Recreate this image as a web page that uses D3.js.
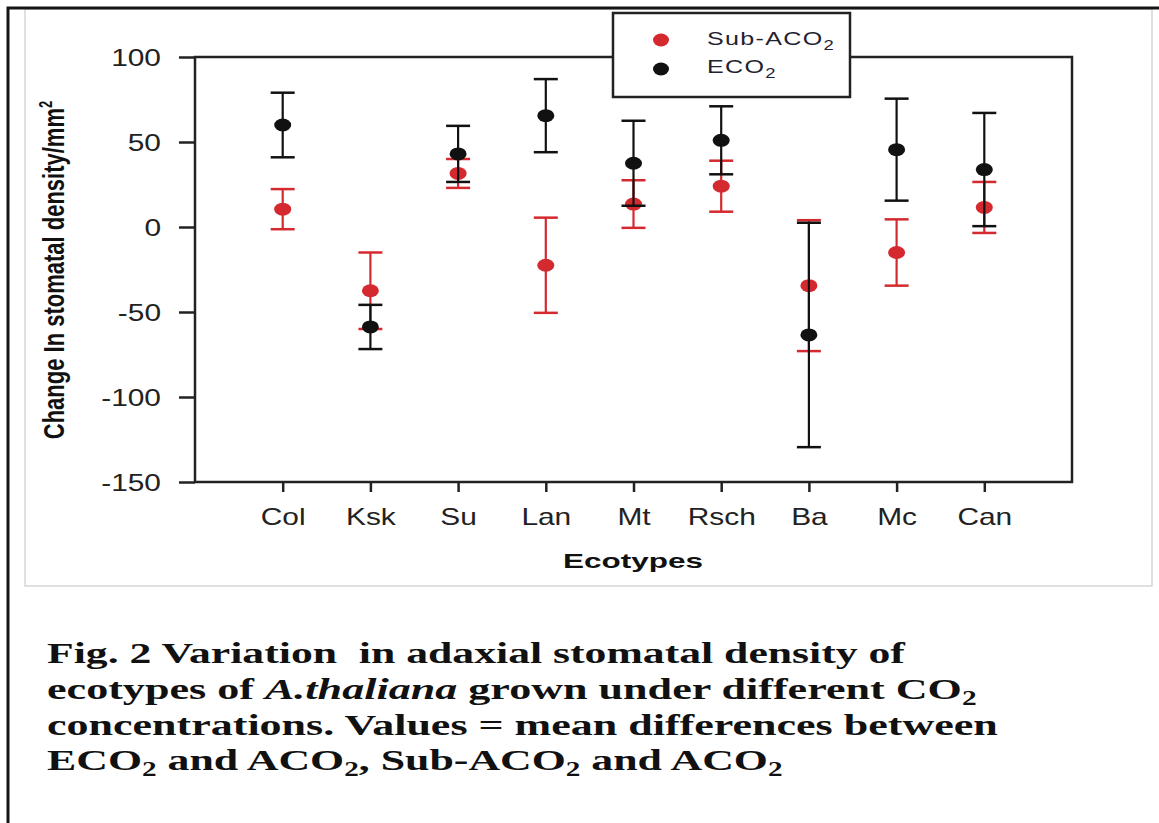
<!DOCTYPE html>
<html>
<head>
<meta charset="utf-8">
<script src="https://cdn.jsdelivr.net/npm/d3@7"></script>
<style>
  html, body { margin: 0; padding: 0; background: #fff; }
  svg { display: block; }
</style>
</head>
<body>
<svg id="chart" width="1159" height="823"></svg>
<script>
// ---- data ----
const categories = ["Col", "Ksk", "Su", "Lan", "Mt", "Rsch", "Ba", "Mc", "Can"];
const ecoMean = [60, -58.8, 43, 65.5, 37.5, 51, -63.5, 45.5, 33.8];
const ecoErr  = [19, 13, 16.5, 21.5, 25, 20, 66, 30, 33.3];
const subMean = [10.5, -37.5, 31.5, -22.5, 13.5, 24, -34.5, -15, 11.5];
const subErr  = [11.8, 22.5, 8.5, 28, 14, 15, 38.5, 19.5, 15];
const yTicks  = [100, 50, 0, -50, -100, -150];
const seriesNames = ["Sub-ACO", "ECO"];
const captionLines = [
  [{t: "Fig. 2 Variation\u00a0 in adaxial stomatal density of"}],
  [{t: "ecotypes of "}, {t: "A.thaliana", i: true}, {t: " grown under different CO"}, {t: "2", sub: true}],
  [{t: "concentrations. Values = mean differences between"}],
  [{t: "ECO"}, {t: "2", sub: true}, {t: " and ACO"}, {t: "2", sub: true}, {t: ", Sub-ACO"}, {t: "2", sub: true}, {t: " and ACO"}, {t: "2", sub: true}]
];

(function () {
const RED = "#d42a2f", BLACK = "#111111", AX = "#222222";
const svg = d3.select("#chart");
const pL = 195, pR = 1072, pT = 57, pB = 482;
const SX = 1.3;

// frames
svg.append("rect").attr("x", 25).attr("y", 9).attr("width", 1127).attr("height", 577)
  .attr("fill", "none").attr("stroke", "#d6d6d6").attr("stroke-width", 1.5);
svg.append("path").attr("d", "M8,823V8H1159").attr("fill", "none")
  .attr("stroke", "#161616").attr("stroke-width", 3);

const x = d3.scalePoint().domain(categories).range([pL, pR]).padding(1);
const y = d3.scaleLinear().domain([-150, 100]).range([pB, pT]);

// plot box
svg.append("rect").attr("x", pL).attr("y", pT).attr("width", pR - pL).attr("height", pB - pT)
  .attr("fill", "none").attr("stroke", AX).attr("stroke-width", 2.5);

// y axis
const ya = svg.append("g").attr("transform", `translate(${pL},0)`)
  .call(d3.axisLeft(y).tickValues(yTicks).tickSize(16).tickFormat(d => String(d)));
ya.select(".domain").remove();
ya.selectAll(".tick line").attr("stroke", AX).attr("stroke-width", 2.5);
ya.selectAll(".tick text").attr("x", 0).attr("dy", "0.36em")
  .attr("transform", `translate(-34,0) scale(${SX},1)`)
  .style("font-family", "'Liberation Sans', Arial, sans-serif").style("font-size", "23px").attr("fill", "#222");

// x axis
const xa = svg.append("g").attr("transform", `translate(0,${pB})`)
  .call(d3.axisBottom(x).tickSize(10));
xa.select(".domain").remove();
xa.selectAll(".tick line").attr("stroke", AX).attr("stroke-width", 2.5);
xa.selectAll(".tick text").attr("y", 43).attr("dy", 0)
  .attr("transform", `scale(${SX},1)`).attr("x", 0)
  .style("font-family", "'Liberation Sans', Arial, sans-serif").style("font-size", "23px").attr("fill", "#222");

// axis titles
svg.append("text").attr("x", 633).attr("y", 568).attr("text-anchor", "middle")
  .attr("textLength", 140).attr("lengthAdjust", "spacingAndGlyphs")
  .style("font-family", "'Liberation Sans', Arial, sans-serif").style("font-weight", "bold").style("font-size", "21px")
  .attr("fill", "#111").text("Ecotypes");

const yt = svg.append("text").attr("transform", "translate(64,270) rotate(-90) scale(1,1.35)")
  .attr("text-anchor", "middle")
  .style("font-family", "'Liberation Sans', Arial, sans-serif").style("font-weight", "bold").style("font-size", "22px")
  .attr("fill", "#111");
yt.append("tspan").text("Change In stomatal density/mm");
yt.append("tspan").attr("dy", -9).style("font-size", "13px").text("2");

// data series
function drawSeries(mean, err, color) {
  const g = svg.append("g");
  categories.forEach((c, i) => {
    const cx = x(c), lo = y(mean[i] - err[i]), hi = y(mean[i] + err[i]);
    g.append("line").attr("x1", cx).attr("x2", cx).attr("y1", lo).attr("y2", hi)
      .attr("stroke", color).attr("stroke-width", 2.2);
    [lo, hi].forEach(v => g.append("line").attr("x1", cx - 12).attr("x2", cx + 12).attr("y1", v).attr("y2", v)
      .attr("stroke", color).attr("stroke-width", 2.5));
    g.append("ellipse").attr("cx", cx).attr("cy", y(mean[i])).attr("rx", 8.5).attr("ry", 6.5).attr("fill", color);
  });
}
drawSeries(subMean, subErr, RED);
drawSeries(ecoMean, ecoErr, BLACK);

// legend
const lg = svg.append("g");
lg.append("rect").attr("x", 613).attr("y", 13).attr("width", 237).attr("height", 84)
  .attr("fill", "#fff").attr("stroke", AX).attr("stroke-width", 2.5);
const legendItems = [{name: seriesNames[0], color: RED, cy: 40, base: 45}, {name: seriesNames[1], color: BLACK, cy: 69, base: 73}];
legendItems.forEach(it => {
  lg.append("ellipse").attr("cx", 661).attr("cy", it.cy).attr("rx", 8).attr("ry", 6.5).attr("fill", it.color);
  const t = lg.append("text").attr("transform", `translate(707,${it.base}) scale(1.32,1)`)
    .style("font-family", "'Liberation Sans', Arial, sans-serif").style("font-size", "19px")
    .style("letter-spacing", "1px").attr("fill", "#1f2230");
  t.append("tspan").text(it.name);
  t.append("tspan").attr("dy", 5).style("font-size", "14px").text("2");
});

// caption
const capTargets = [858, 930, 951, 736];
const capBase = [663, 699, 735, 770];
captionLines.forEach((parts, li) => {
  const g = svg.append("g");
  const t = g.append("text").attr("x", 0).attr("y", 0)
    .style("font-family", "'Liberation Serif', 'Times New Roman', serif").style("font-weight", "bold")
    .style("font-size", "30px").attr("fill", "#111");
  let prevSub = false;
  parts.forEach(p => {
    const s = t.append("tspan").text(p.t);
    if (p.i) s.style("font-style", "italic");
    if (p.sub) s.style("font-size", "20px").attr("dy", 6);
    else if (prevSub) s.attr("dy", -6);
    prevSub = !!p.sub;
  });
  const w = t.node().getComputedTextLength();
  g.attr("transform", `translate(47,${capBase[li]}) scale(${capTargets[li] / w},1)`);
});
})();
</script>
</body>
</html>
